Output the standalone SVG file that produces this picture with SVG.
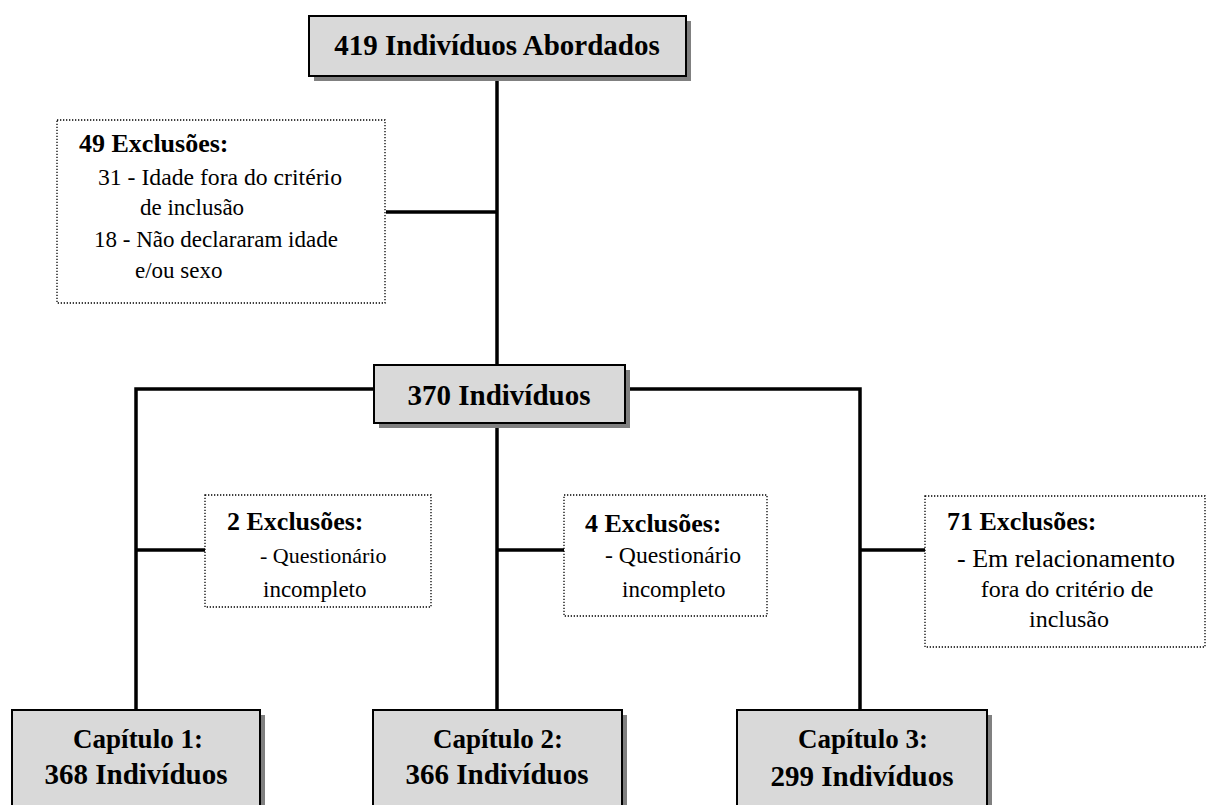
<svg xmlns="http://www.w3.org/2000/svg" width="1208" height="805" viewBox="0 0 1208 805">
<style>
.box{fill:#d9d9d9;stroke:#000;stroke-width:2}
.shadow{fill:#808080}
.excl{fill:#fff;stroke:#000;stroke-width:1.3;stroke-dasharray:1.3 1.7}
.t{font-family:"Liberation Serif","Times New Roman",serif;font-weight:bold;font-size:29px;fill:#000;text-anchor:middle}
.cap{font-size:27px}
.eb{font-family:"Liberation Serif","Times New Roman",serif;font-weight:bold;font-size:26px;fill:#000}
.er{font-family:"Liberation Serif","Times New Roman",serif;font-size:23px;fill:#000}
.ln{stroke:#000;stroke-width:3.5;fill:none}
</style>
<rect width="1208" height="805" fill="#fff"/>
<g id="connectors">
<line class="ln" x1="497" y1="76" x2="497" y2="365"/>
<line class="ln" x1="386" y1="212" x2="497" y2="212"/>
<polyline class="ln" points="136,710 136,389 374,389"/>
<polyline class="ln" points="625,389 860,389 860,710"/>
<line class="ln" x1="497" y1="423" x2="497" y2="710"/>
<line class="ln" x1="136" y1="550" x2="205" y2="550"/>
<line class="ln" x1="497" y1="550" x2="564" y2="550"/>
<line class="ln" x1="860" y1="550" x2="925" y2="550"/>
</g>
<g id="n-top">
<rect class="shadow" x="314" y="21" width="377" height="60"/>
<rect class="box" x="309" y="16" width="377" height="60"/>
<text class="t" x="497" y="55">419 Indivíduos Abordados</text>
</g>
<g id="n-excl49">
<rect class="excl" x="57" y="120" width="328" height="183"/>
<text class="eb" x="79" y="152">49 Exclusões:</text>
<text class="er" x="98" y="185" style="font-size:23.7px">31 - Idade fora do critério</text>
<text class="er" x="140" y="215">de inclusão</text>
<text class="er" x="94" y="247">18 - Não declararam idade</text>
<text class="er" x="135" y="278">e/ou sexo</text>
</g>
<g id="n-370">
<rect class="shadow" x="379" y="370" width="251" height="58"/>
<rect class="box" x="374" y="365" width="251" height="58"/>
<text class="t" x="499" y="405">370 Indivíduos</text>
</g>
<g id="n-excl2">
<rect class="excl" x="205" y="495" width="226" height="112"/>
<text class="eb" x="227" y="530">2 Exclusões:</text>
<text class="er" x="260" y="563" style="font-size:22px">- Questionário</text>
<text class="er" x="263" y="597">incompleto</text>
</g>
<g id="n-excl4">
<rect class="excl" x="564" y="495" width="203" height="121"/>
<text class="eb" x="585" y="532">4 Exclusões:</text>
<text class="er" x="605" y="563" style="font-size:23.7px">- Questionário</text>
<text class="er" x="622" y="597">incompleto</text>
</g>
<g id="n-excl71">
<rect class="excl" x="925" y="496" width="280" height="151"/>
<text class="eb" x="947" y="530">71 Exclusões:</text>
<text class="er" x="957" y="567" style="font-size:26px">- Em relacionamento</text>
<text class="er" x="1067" y="597" text-anchor="middle" style="font-size:24px">fora do critério de</text>
<text class="er" x="1069" y="627" text-anchor="middle" style="font-size:24px">inclusão</text>
</g>
<g id="n-cap1">
<rect class="shadow" x="17" y="715" width="248" height="100"/>
<rect class="box" x="12" y="710" width="248" height="100"/>
<text class="t cap" x="138" y="748">Capítulo 1:</text>
<text class="t" x="136" y="784">368 Indivíduos</text>
</g>
<g id="n-cap2">
<rect class="shadow" x="378" y="715" width="249" height="100"/>
<rect class="box" x="373" y="710" width="249" height="100"/>
<text class="t cap" x="498" y="748">Capítulo 2:</text>
<text class="t" x="497" y="784">366 Indivíduos</text>
</g>
<g id="n-cap3">
<rect class="shadow" x="742" y="715" width="250" height="100"/>
<rect class="box" x="737" y="710" width="250" height="100"/>
<text class="t cap" x="863" y="748">Capítulo 3:</text>
<text class="t" x="862" y="786">299 Indivíduos</text>
</g>
</svg>
